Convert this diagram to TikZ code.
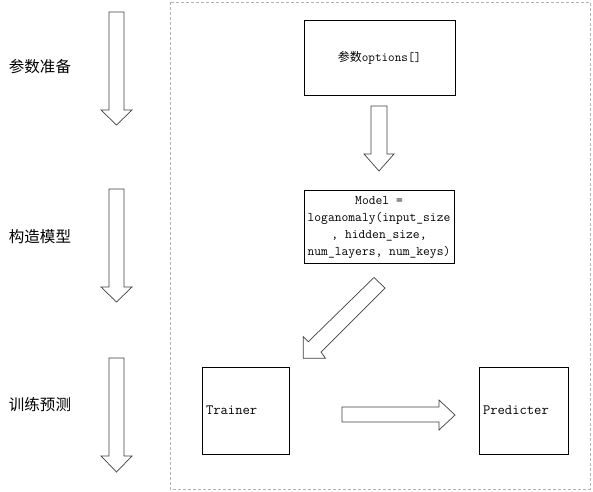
\documentclass[tikz,border=0pt]{standalone}
\usepackage{fontspec}
\newfontfamily\cjk{Noto Sans CJK SC}
\begin{document}
\begin{tikzpicture}[x=1pt,y=-1pt,
  box/.style={draw=black, line width=0.9pt, fill=white, inner sep=0pt},
  blockarrow/.style={draw=black!75, line width=0.7pt, fill=white, line join=miter},
  stage/.style={font=\cjk\fontsize{15.5}{18}\selectfont, inner sep=0pt},
  frame/.style={draw=black!30, line width=0.8pt, dash pattern=on 3pt off 2pt}]
  \useasboundingbox (0,0) rectangle (593,491);

  % dashed container
  \draw[frame] (170,2) rectangle (590,489);

  % stage labels on the left
  \node[stage] (s1) at (40,67)  {参数准备};
  \node[stage] (s2) at (40,237) {构造模型};
  \node[stage] (s3) at (40,405) {训练预测};

  % stage flow arrows
  \foreach \t/\h/\p in {12/110/125, 189/287/302, 358/456/472}{
    \draw[blockarrow] (109,\t) -- (124,\t) -- (124,\h) -- (132,\h) -- (116.5,\p)
      -- (101,\h) -- (109,\h) -- cycle;
  }

  % boxes
  \node[box, minimum width=151pt, minimum height=75pt] (opts) at (379.5,57.5)
    {{\cjk\fontsize{12}{14}\selectfont 参数}{\ttfamily\fontsize{12.8}{14}\selectfont options[]}};
  \node[box, minimum width=150pt, minimum height=73pt, align=center,
        font=\ttfamily\fontsize{13.2}{17}\selectfont] (model) at (379,227)
    {Model =\\loganomaly(input\_size\\, hidden\_size,\\num\_layers, num\_keys)};
  \node[box, minimum width=87pt, minimum height=87pt, text width=79pt, align=left,
        font=\ttfamily\fontsize{14.2}{15}\selectfont] (trainer) at (245.5,410.5) {Trainer};
  \node[box, minimum width=89pt, minimum height=87pt, text width=81pt, align=left,
        font=\ttfamily\fontsize{14.2}{15}\selectfont] (pred) at (523.5,410.5) {Predicter};

  % options -> model
  \draw[blockarrow] (371,106) -- (387,106) -- (387,154) -- (394,154) -- (379,171)
    -- (364,154) -- (371,154) -- cycle;

  % model -> trainer (diagonal)
  \draw[blockarrow] (374,277.5) -- (385,288) -- (321,352) -- (325.5,358.3)
    -- (303.3,358.3) -- (303.3,336.7) -- (308.3,341.7) -- cycle;

  % trainer -> predicter
  \draw[blockarrow] (342,407) -- (439,407) -- (439,400) -- (455,415) -- (439,430)
    -- (439,422) -- (342,422) -- cycle;
\end{tikzpicture}
\end{document}
